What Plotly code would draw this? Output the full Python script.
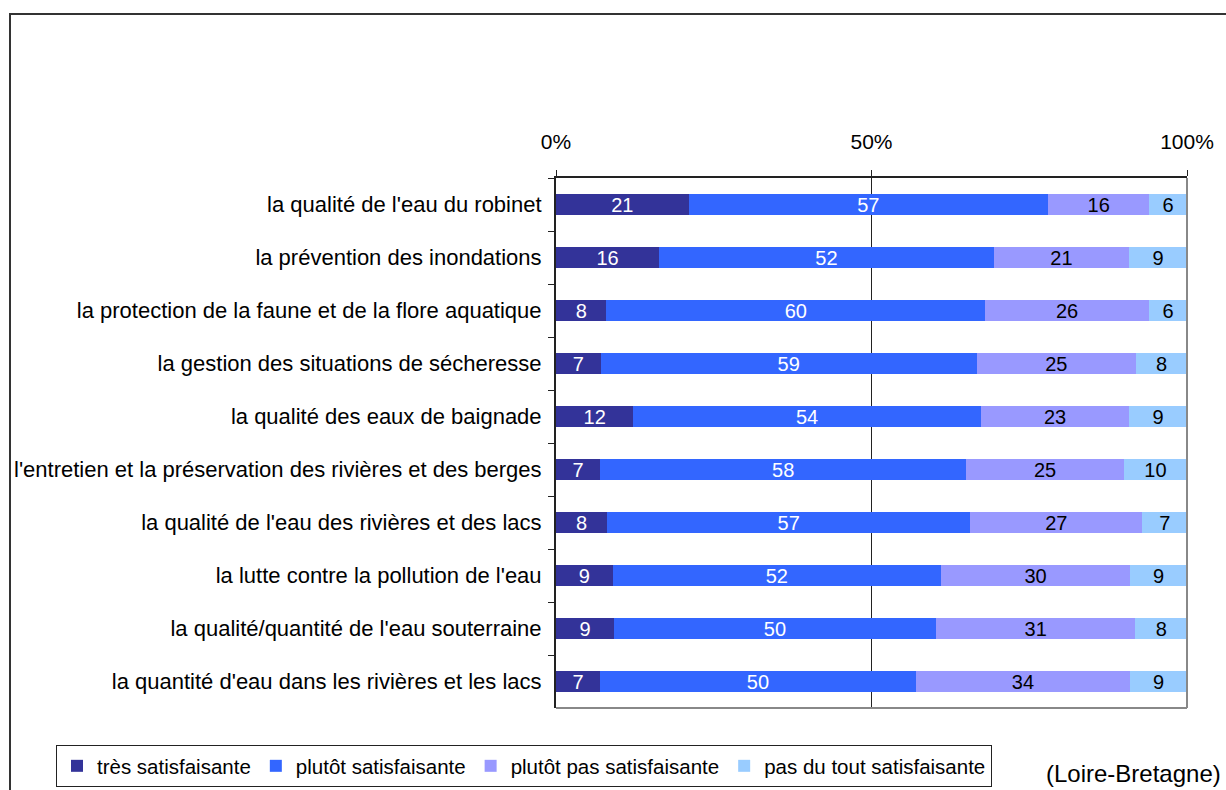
import plotly.graph_objects as go

# Survey items, listed top to bottom
categories = [
    "la qualité de l'eau du robinet",
    "la prévention des inondations",
    "la protection de la faune et de la flore aquatique",
    "la gestion des situations de sécheresse",
    "la qualité des eaux de baignade",
    "l'entretien et la préservation des rivières et des berges",
    "la qualité de l'eau des rivières et des lacs",
    "la lutte contre la pollution de l'eau",
    "la qualité/quantité de l'eau souterraine",
    "la quantité d'eau dans les rivières et les lacs",
]

tres_satisfaisante = [21, 16, 8, 7, 12, 7, 8, 9, 9, 7]
plutot_satisfaisante = [57, 52, 60, 59, 54, 58, 57, 52, 50, 50]
plutot_pas_satisfaisante = [16, 21, 26, 25, 23, 25, 27, 30, 31, 34]
pas_du_tout_satisfaisante = [6, 9, 6, 8, 9, 10, 7, 9, 8, 9]

series_names = [
    "très satisfaisante",
    "plutôt satisfaisante",
    "plutôt pas satisfaisante",
    "pas du tout satisfaisante",
]
series_values = [
    tres_satisfaisante,
    plutot_satisfaisante,
    plutot_pas_satisfaisante,
    pas_du_tout_satisfaisante,
]
series_colors = ["#333399", "#3366FF", "#9999FF", "#99CCFF"]
label_colors = ["white", "white", "black", "black"]

tick_vals = [0, 50, 100]
tick_text = ["0%", "50%", "100%"]

FONT = "Liberation Sans, Arial, sans-serif"

# Plot-area geometry in pixels
W, H = 1226, 790
ML, MR, MT, MB = 556, 39, 178, 82
PW, PH = W - ML - MR, H - MT - MB

fig = go.Figure()
for name, vals, col, tcol in zip(series_names, series_values, series_colors, label_colors):
    fig.add_trace(go.Bar(
        y=categories,
        x=vals,
        name=name,
        orientation="h",
        marker=dict(color=col, line=dict(width=0)),
        text=[str(v) for v in vals],
        textposition="inside",
        insidetextanchor="middle",
        textangle=0,
        textfont=dict(family=FONT, size=20, color=tcol),
        hoverinfo="skip",
    ))

fig.update_layout(
    width=W,
    height=H,
    margin=dict(l=ML, r=MR, t=MT, b=MB, autoexpand=False),
    paper_bgcolor="white",
    plot_bgcolor="white",
    barmode="stack",
    barnorm="percent",
    bargap=0.605,
    font=dict(family=FONT, size=20, color="black"),
    uniformtext=dict(minsize=20, mode="show"),
    showlegend=True,
    legend=dict(
        orientation="h",
        x=(56 - ML) / PW,
        y=((H - MB) - 745) / PH,
        xanchor="left",
        yanchor="top",
        bordercolor="#222222",
        borderwidth=1,
        font=dict(family=FONT, size=20.5, color="black"),
        itemwidth=30,
        tracegroupgap=0,
        traceorder="normal",
    ),
)

fig.update_xaxes(
    side="top",
    range=[0, 100],
    tickvals=tick_vals,
    ticktext=tick_text,
    ticks="outside",
    ticklen=6,
    tickcolor="#222222",
    tickwidth=1,
    showline=True,
    linecolor="#222222",
    linewidth=2,
    showgrid=False,
    zeroline=False,
    tickfont=dict(family=FONT, size=21, color="black"),
    ticklabelstandoff=13,
    automargin=False,
    fixedrange=True,
)

fig.update_yaxes(
    autorange="reversed",
    ticks="outside",
    tickson="boundaries",
    ticklen=6,
    tickcolor="#222222",
    tickwidth=1,
    showline=True,
    linecolor="#222222",
    linewidth=2,
    showgrid=False,
    zeroline=False,
    tickfont=dict(family=FONT, size=22, color="black"),
    ticklabelstandoff=8,
    automargin=False,
    fixedrange=True,
)

# Vertical reference line at 50 %
fig.add_shape(type="line", xref="x", yref="paper", x0=50, x1=50, y0=0, y1=1,
              line=dict(color="#222222", width=1), layer="below")
# Grey right and bottom edges of the plotting area
fig.add_shape(type="line", xref="paper", yref="paper", x0=1, x1=1, y0=0, y1=1,
              line=dict(color="#888888", width=2))
fig.add_shape(type="line", xref="paper", yref="paper", x0=0, x1=1, y0=0, y1=0,
              line=dict(color="#888888", width=2))
# Outer chart frame
fig.add_shape(type="rect", xref="paper", yref="paper",
              x0=(10 - ML) / PW, x1=1.2, y0=((H - MB) - 14) / PH, y1=-0.3,
              line=dict(color="#333333", width=2), fillcolor="rgba(0,0,0,0)")

fig.add_annotation(
    text="(Loire-Bretagne)",
    xref="paper", yref="paper",
    x=(1223 - ML) / PW, y=((H - MB) - 773) / PH,
    xanchor="right", yanchor="middle",
    showarrow=False,
    font=dict(family=FONT, size=24, color="black"),
)

fig.write_html("out.html")
